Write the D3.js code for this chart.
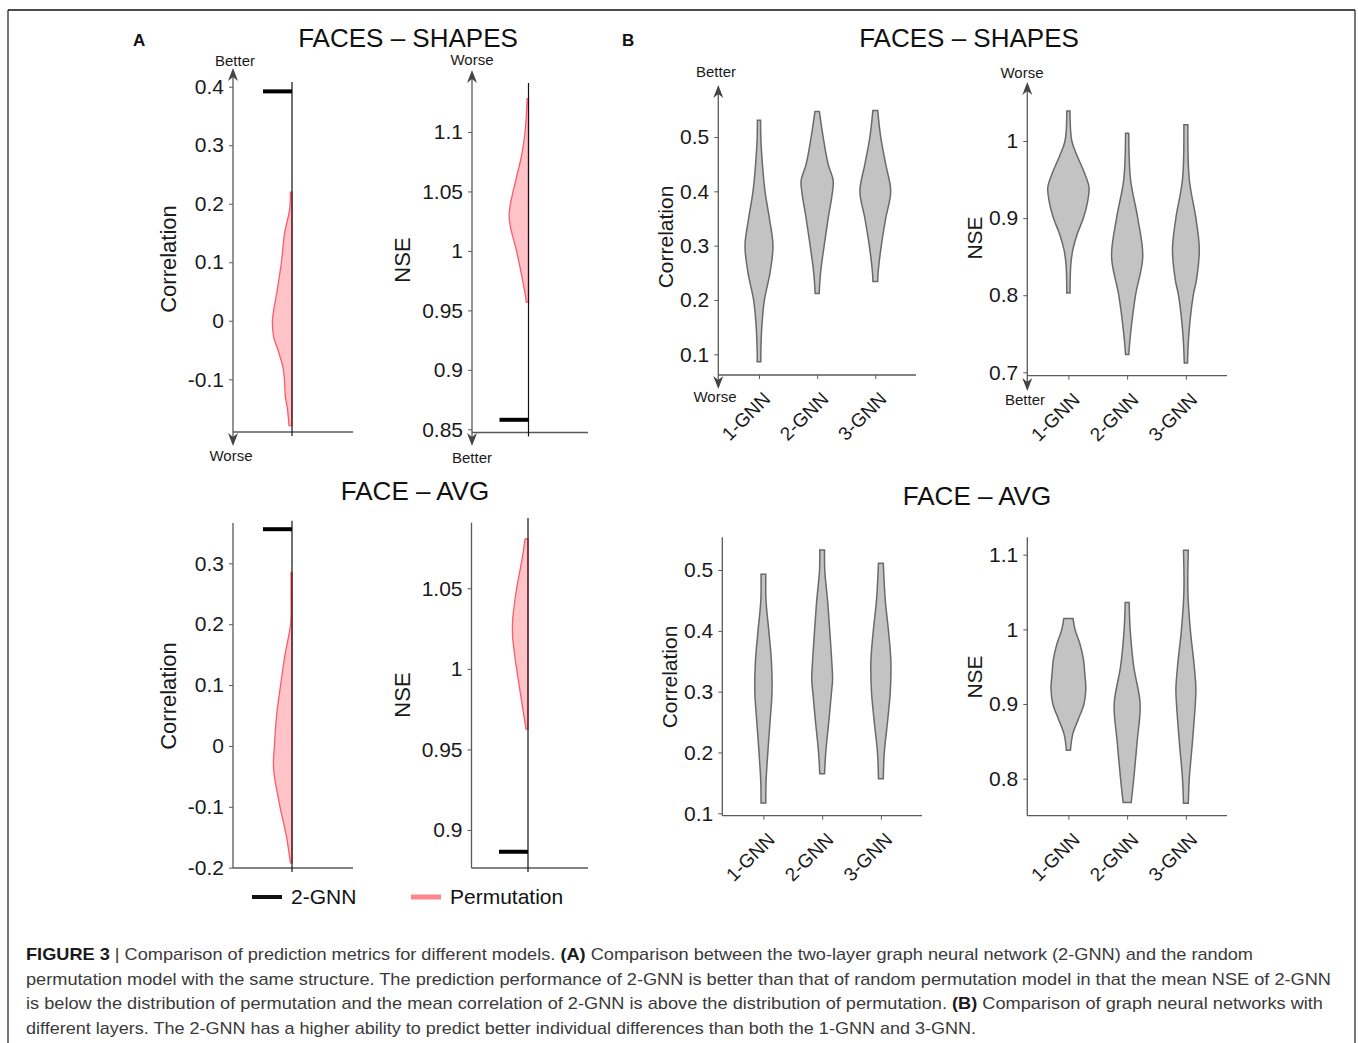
<!DOCTYPE html>
<html>
<head>
<meta charset="utf-8">
<script src="https://cdn.jsdelivr.net/npm/d3@7"></script>
<style>
  body { margin: 0; background: #fff; }
  svg { display: block; font-family: "Liberation Sans", Arial, Helvetica, sans-serif; }
</style>
</head>
<body>
<svg id="fig" width="1358" height="1043"></svg>
<script>
// ---------------- data ----------------
var models = ["1-GNN", "2-GNN", "3-GNN"];

// panel A: mean of 2-GNN and density of the permutation model, [value, relative density]
var meanCorrFS = 0.392;
var permCorrFS = [[0.22, 0.08], [0.19, 0.12], [0.15, 0.37], [0.1, 0.53], [0.05, 0.75], [0, 0.98],
  [-0.03, 0.9], [-0.05, 0.7], [-0.08, 0.45], [-0.1, 0.38], [-0.13, 0.33], [-0.15, 0.23],
  [-0.17, 0.17], [-0.179, 0.15]];
var meanNseFS = 0.858;
var permNseFS = [[1.128, 0.07], [1.1, 0.17], [1.08, 0.35], [1.06, 0.63], [1.05, 0.77], [1.04, 0.9],
  [1.03, 0.97], [1.02, 0.9], [1.0, 0.6], [0.98, 0.35], [0.96, 0.13], [0.957, 0.12]];
var meanCorrFA = 0.356;
var permCorrFA = [[0.285, 0.05], [0.25, 0.05], [0.2, 0.07], [0.15, 0.35], [0.1, 0.57], [0.05, 0.77],
  [0, 0.88], [-0.03, 0.93], [-0.05, 0.88], [-0.1, 0.6], [-0.15, 0.27], [-0.192, 0.08]];
var meanNseFA = 0.8865;
var permNseFA = [[1.0806, 0.15], [1.07, 0.27], [1.05, 0.57], [1.04, 0.68], [1.03, 0.77], [1.02, 0.77],
  [1.01, 0.68], [1.0, 0.57], [0.98, 0.32], [0.9626, 0.1]];

// panel B: violin profiles per model, [value, relative half width]
var corrFS = [
  [[0.531, 0.08], [0.5, 0.09], [0.45, 0.17], [0.4, 0.3], [0.35, 0.52], [0.3, 0.7], [0.25, 0.55],
   [0.2, 0.27], [0.15, 0.14], [0.1, 0.09], [0.0865, 0.09]],
  [[0.547, 0.11], [0.5, 0.3], [0.45, 0.55], [0.42, 0.8], [0.4, 0.77], [0.35, 0.55], [0.3, 0.35],
   [0.25, 0.17], [0.212, 0.1]],
  [[0.549, 0.12], [0.5, 0.27], [0.45, 0.52], [0.4, 0.77], [0.35, 0.52], [0.3, 0.3], [0.25, 0.14],
   [0.234, 0.12]]
];
var nseFS = [
  [[1.039, 0.08], [1.0, 0.17], [0.98, 0.45], [0.96, 0.78], [0.94, 1.03], [0.92, 0.95], [0.9, 0.75],
   [0.88, 0.45], [0.86, 0.23], [0.84, 0.12], [0.803, 0.08]],
  [[1.01, 0.08], [0.95, 0.17], [0.9, 0.53], [0.85, 0.78], [0.8, 0.42], [0.75, 0.17], [0.723, 0.08]],
  [[1.021, 0.1], [0.95, 0.17], [0.9, 0.5], [0.86, 0.67], [0.82, 0.53], [0.8, 0.37], [0.75, 0.15],
   [0.712, 0.08]]
];
var corrFA = [
  [[0.493, 0.12], [0.45, 0.13], [0.4, 0.27], [0.35, 0.4], [0.3, 0.43], [0.25, 0.33], [0.2, 0.22],
   [0.15, 0.13], [0.117, 0.12]],
  [[0.533, 0.12], [0.5, 0.13], [0.45, 0.27], [0.4, 0.38], [0.35, 0.48], [0.32, 0.52], [0.3, 0.47],
   [0.25, 0.33], [0.2, 0.18], [0.165, 0.12]],
  [[0.511, 0.12], [0.45, 0.22], [0.4, 0.38], [0.35, 0.5], [0.3, 0.47], [0.25, 0.33], [0.2, 0.17],
   [0.157, 0.12]]
];
var nseFA = [
  [[1.0147, 0.23], [1.0, 0.33], [0.98, 0.58], [0.96, 0.75], [0.94, 0.82], [0.92, 0.87], [0.9, 0.78],
   [0.88, 0.5], [0.86, 0.22], [0.838, 0.1]],
  [[1.036, 0.1], [1.0, 0.15], [0.95, 0.33], [0.9, 0.65], [0.85, 0.5], [0.8, 0.33], [0.768, 0.2]],
  [[1.106, 0.12], [1.05, 0.1], [1.0, 0.22], [0.95, 0.42], [0.92, 0.5], [0.9, 0.47], [0.85, 0.33],
   [0.8, 0.17], [0.767, 0.12]]
];

// tick values and labels
var corrTicksA1 = [-0.1, 0, 0.1, 0.2, 0.3, 0.4];
var corrLabelsA1 = ["-0.1", "0", "0.1", "0.2", "0.3", "0.4"];
var nseTicksA1 = [0.85, 0.9, 0.95, 1, 1.05, 1.1];
var nseLabelsA1 = ["0.85", "0.9", "0.95", "1", "1.05", "1.1"];
var corrTicksA2 = [-0.2, -0.1, 0, 0.1, 0.2, 0.3];
var corrLabelsA2 = ["-0.2", "-0.1", "0", "0.1", "0.2", "0.3"];
var nseTicksA2 = [0.9, 0.95, 1, 1.05];
var nseLabelsA2 = ["0.9", "0.95", "1", "1.05"];
var corrTicksB = [0.1, 0.2, 0.3, 0.4, 0.5];
var corrLabelsB = ["0.1", "0.2", "0.3", "0.4", "0.5"];
var nseTicksB1 = [0.7, 0.8, 0.9, 1];
var nseLabelsB1 = ["0.7", "0.8", "0.9", "1"];
var nseTicksB2 = [0.8, 0.9, 1, 1.1];
var nseLabelsB2 = ["0.8", "0.9", "1", "1.1"];

var legendItems = ["2-GNN", "Permutation"];

var caption = [
  [["FIGURE 3", true], [" | Comparison of prediction metrics for different models. ", false], ["(A)", true],
   [" Comparison between the two-layer graph neural network (2-GNN) and the random", false]],
  [["permutation model with the same structure. The prediction performance of 2-GNN is better than that of random permutation model in that the mean NSE of 2-GNN", false]],
  [["is below the distribution of permutation and the mean correlation of 2-GNN is above the distribution of permutation. ", false], ["(B)", true],
   [" Comparison of graph neural networks with", false]],
  [["different layers. The 2-GNN has a higher ability to predict better individual differences than both the 1-GNN and 3-GNN.", false]]
];

// ---------------- drawing ----------------
var svg = d3.select("#fig");
var axisColor = "#5a5a5a";
var textColor = "#1a1a1a";

// frame
svg.append("line").attr("x1", 8).attr("x2", 8).attr("y1", 10).attr("y2", 1043)
  .attr("stroke", "#777").attr("stroke-width", 2);
svg.append("line").attr("x1", 1355).attr("x2", 1355).attr("y1", 10).attr("y2", 1043)
  .attr("stroke", "#777").attr("stroke-width", 2);
svg.append("line").attr("x1", 8).attr("x2", 1355).attr("y1", 10).attr("y2", 10)
  .attr("stroke", "#111").attr("stroke-width", 1.5);

function arrowHead(x, tip, dir) {
  // dir = -1 points up, +1 points down
  var p = d3.path();
  p.moveTo(x, tip);
  p.lineTo(x - 5, tip - dir * 13);
  p.lineTo(x, tip - dir * 9);
  p.lineTo(x + 5, tip - dir * 13);
  p.closePath();
  svg.append("path").attr("d", p.toString()).attr("fill", "#444");
}

function yAxis(c) {
  var y = d3.scaleLinear().domain(c.cal[0]).range(c.cal[1]);
  var g = svg.append("g").attr("transform", "translate(" + c.axisX + ",0)");
  g.call(d3.axisLeft(y).tickValues(c.ticks)
    .tickFormat(function (d, i) { return c.labels[i]; })
    .tickSize(4).tickPadding(5));
  g.select(".domain").remove();
  g.selectAll(".tick line").attr("stroke", axisColor);
  g.selectAll(".tick text").attr("fill", textColor).style("font-size", "21px")
    .style("font-family", "Liberation Sans, Arial, sans-serif");
  svg.append("line").attr("x1", c.axisX).attr("x2", c.axisX)
    .attr("y1", c.arrows ? c.arrows[0] + 6 : c.top).attr("y2", c.arrows ? c.arrows[1] - 6 : c.baseY)
    .attr("stroke", axisColor).attr("stroke-width", 1.3);
  svg.append("line").attr("x1", c.axisX).attr("x2", c.xEnd)
    .attr("y1", c.baseY).attr("y2", c.baseY)
    .attr("stroke", axisColor).attr("stroke-width", 1.3);
  if (c.arrows) {
    arrowHead(c.axisX, c.arrows[0], -1);
    arrowHead(c.axisX, c.arrows[1], 1);
    svg.append("text").attr("x", c.arrowText[0][0]).attr("y", c.arrowText[0][1])
      .attr("text-anchor", "middle").style("font-size", "15px").attr("fill", textColor)
      .text(c.arrowText[0][2]);
    svg.append("text").attr("x", c.arrowText[1][0]).attr("y", c.arrowText[1][1])
      .attr("text-anchor", "middle").style("font-size", "15px").attr("fill", textColor)
      .text(c.arrowText[1][2]);
  }
  svg.append("text")
    .attr("transform", "translate(" + c.labelPos[0] + "," + c.labelPos[1] + ") rotate(-90)")
    .attr("text-anchor", "middle").attr("dy", "0.36em")
    .style("font-size", c.labelSize + "px").attr("fill", textColor)
    .text(c.label);
  return y;
}

// panel A: half violin of the permutation model + 2-GNN mean bar
var halfWidth = d3.scaleLinear().domain([0, 1]).range([0, 20]);

function halfPanel(c) {
  var y = yAxis(c);
  var area = d3.area()
    .y(function (d) { return y(d[0]); })
    .x0(function (d) { return c.lineX - halfWidth(d[1]); })
    .x1(c.lineX)
    .curve(d3.curveCatmullRom.alpha(0.5));
  svg.append("path").datum(c.dist).attr("d", area)
    .attr("fill", "#ffc3c8").attr("stroke", "#ff5a6b").attr("stroke-width", 1.3);
  svg.append("line").attr("x1", c.lineX).attr("x2", c.lineX)
    .attr("y1", c.lineTop).attr("y2", c.baseY + 4)
    .attr("stroke", "#111").attr("stroke-width", 1.2);
  svg.append("line").attr("x1", c.lineX - 29).attr("x2", c.lineX)
    .attr("y1", y(c.mean)).attr("y2", y(c.mean))
    .attr("stroke", "#000").attr("stroke-width", 4);
}

// panel B: full violins per model
var violinWidth = d3.scaleLinear().domain([0, 1]).range([0, 20]);

function violinPanel(c) {
  var y = yAxis(c);
  var x = d3.scalePoint().domain(models).range([c.axisX, c.xEnd]).padding(0.7);
  svg.append("g").selectAll("path").data(c.series).join("path")
    .attr("d", function (s, i) {
      var cx = x(models[i]);
      return d3.area()
        .y(function (d) { return y(d[0]); })
        .x0(function (d) { return cx - violinWidth(d[1]); })
        .x1(function (d) { return cx + violinWidth(d[1]); })
        .curve(d3.curveCatmullRom.alpha(0.5))(s);
    })
    .attr("fill", "#c3c3c3").attr("stroke", "#6a6a6a").attr("stroke-width", 1.5);
  var gx = svg.append("g").attr("transform", "translate(0," + c.baseY + ")");
  gx.call(d3.axisBottom(x).tickSize(4).tickPadding(4));
  gx.select(".domain").remove();
  gx.selectAll(".tick line").attr("stroke", axisColor);
  gx.selectAll(".tick text")
    .attr("fill", textColor).style("font-size", "19px")
    .style("font-family", "Liberation Sans, Arial, sans-serif")
    .attr("text-anchor", "end").attr("dy", null).attr("y", null)
    .attr("transform", "translate(12,25) rotate(-45)");
}

// titles and panel letters
function txt(x, y, s, size, anchor, weight) {
  svg.append("text").attr("x", x).attr("y", y).attr("text-anchor", anchor || "middle")
    .style("font-size", size + "px").style("font-weight", weight || "normal")
    .attr("fill", "#111").text(s);
}
txt(133, 46, "A", 17, "start", "bold");
txt(622, 46, "B", 17, "start", "bold");
txt(408, 47, "FACES \u2013 SHAPES", 26);
txt(969, 47, "FACES \u2013 SHAPES", 26);
txt(415, 500, "FACE \u2013 AVG", 26);
txt(977, 505, "FACE \u2013 AVG", 26);

halfPanel({
  axisX: 233, baseY: 432, xEnd: 353, cal: [[-0.1, 0.4], [379.3, 86.7]],
  ticks: corrTicksA1, labels: corrLabelsA1, arrows: [68, 446],
  arrowText: [[235, 66, "Better"], [231, 461, "Worse"]],
  label: "Correlation", labelPos: [168, 259], labelSize: 22,
  lineX: 292, lineTop: 82, mean: meanCorrFS, dist: permCorrFS
});
halfPanel({
  axisX: 472, baseY: 432.5, xEnd: 588, cal: [[0.85, 1.1], [429.3, 132]],
  ticks: nseTicksA1, labels: nseLabelsA1, arrows: [70, 446],
  arrowText: [[472, 65, "Worse"], [472, 463, "Better"]],
  label: "NSE", labelPos: [402, 260], labelSize: 22,
  lineX: 528.5, lineTop: 83, mean: meanNseFS, dist: permNseFS
});
halfPanel({
  axisX: 233, baseY: 868, xEnd: 353, top: 523, cal: [[-0.2, 0.3], [867.7, 563.3]],
  ticks: corrTicksA2, labels: corrLabelsA2,
  label: "Correlation", labelPos: [168, 696], labelSize: 22,
  lineX: 292, lineTop: 520.7, mean: meanCorrFA, dist: permCorrFA
});
halfPanel({
  axisX: 471.5, baseY: 868, xEnd: 588, top: 522.7, cal: [[0.9, 1.05], [830, 588.3]],
  ticks: nseTicksA2, labels: nseLabelsA2,
  label: "NSE", labelPos: [402, 695], labelSize: 22,
  lineX: 528, lineTop: 518, mean: meanNseFA, dist: permNseFA
});

violinPanel({
  axisX: 718.3, baseY: 375, xEnd: 916, cal: [[0.1, 0.5], [354.3, 137]],
  ticks: corrTicksB, labels: corrLabelsB, arrows: [85, 389],
  arrowText: [[716, 77, "Better"], [715, 402, "Worse"]],
  label: "Correlation", labelPos: [665, 237], labelSize: 21, series: corrFS
});
violinPanel({
  axisX: 1027.3, baseY: 375.7, xEnd: 1227, cal: [[0.7, 1.0], [372.3, 141]],
  ticks: nseTicksB1, labels: nseLabelsB1, arrows: [82, 391],
  arrowText: [[1022, 78, "Worse"], [1025, 405, "Better"]],
  label: "NSE", labelPos: [974, 238], labelSize: 21, series: nseFS
});
violinPanel({
  axisX: 722.3, baseY: 815.7, xEnd: 922, top: 537.3, cal: [[0.1, 0.5], [813.3, 570]],
  ticks: corrTicksB, labels: corrLabelsB,
  label: "Correlation", labelPos: [669, 677], labelSize: 21, series: corrFA
});
violinPanel({
  axisX: 1027.3, baseY: 815.7, xEnd: 1227, top: 537.3, cal: [[0.8, 1.1], [778.7, 554.7]],
  ticks: nseTicksB2, labels: nseLabelsB2,
  label: "NSE", labelPos: [974, 677], labelSize: 21, series: nseFA
});

// legend
var legendX = [252, 411];
var legendColor = ["#111", "#ff848c"];
legendItems.forEach(function (name, i) {
  svg.append("line").attr("x1", legendX[i]).attr("x2", legendX[i] + 30)
    .attr("y1", 897).attr("y2", 897)
    .attr("stroke", legendColor[i]).attr("stroke-width", i ? 5 : 4);
  txt(legendX[i] + 39, 904, name, 21, "start");
});

// caption
var capY = [960, 984.5, 1009, 1033.5];
var capLen = [1227, 1305, 1297, 950];
caption.forEach(function (line, i) {
  var t = svg.append("text").attr("x", 26).attr("y", capY[i])
    .style("font-size", "17px").attr("fill", "#3a3a3a")
    .attr("textLength", capLen[i]).attr("lengthAdjust", "spacingAndGlyphs");
  line.forEach(function (seg) {
    t.append("tspan").style("font-weight", seg[1] ? "bold" : "normal")
      .attr("fill", seg[1] ? "#1a1a1a" : "#3a3a3a").text(seg[0]);
  });
});
</script>
</body>
</html>
